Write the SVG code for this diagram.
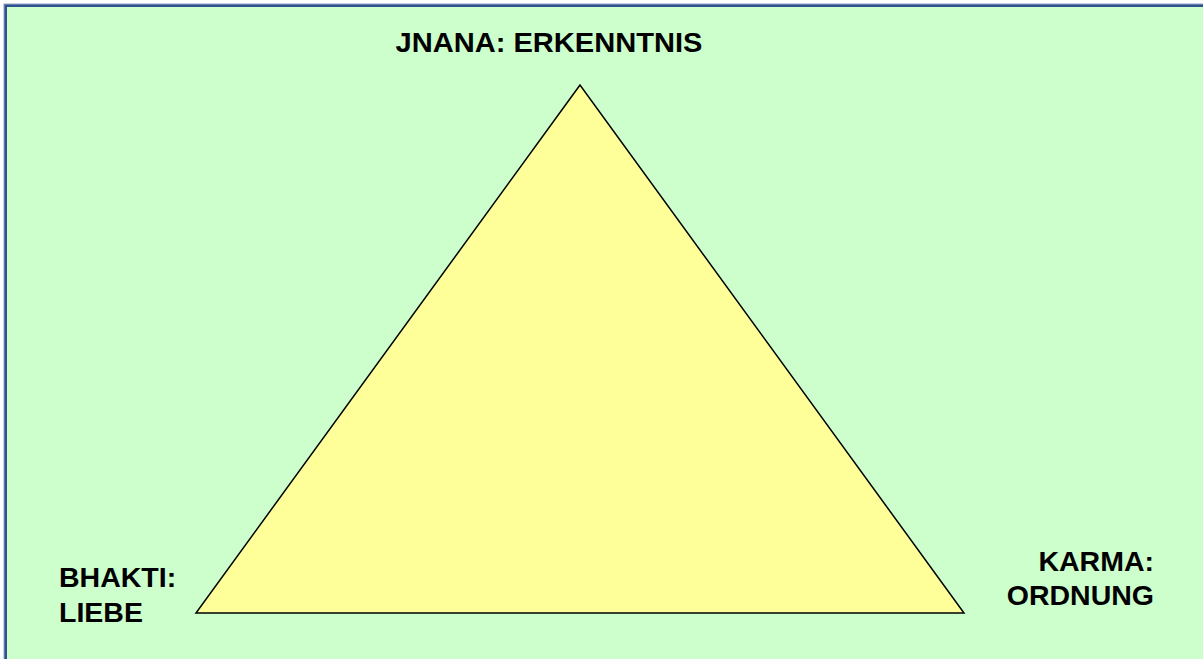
<svg xmlns="http://www.w3.org/2000/svg" width="1203" height="659" viewBox="0 0 1203 659">
<style>
.lbl{font-family:"Liberation Sans",Arial,sans-serif;font-weight:bold;font-size:28.5px;fill:#000}
</style>
<rect x="0" y="0" width="1203" height="659" fill="#FFFFFF"/>
<g id="frame">
<rect x="5.5" y="5.5" width="1210" height="670" fill="#CCFFCC" stroke="#2F528F" stroke-width="3"/>
<rect x="4" y="4" width="1213" height="673" fill="none" stroke="#8FA6CC" stroke-width="1"/>
</g>
<g id="triangle">
<polygon points="580,85 196,613 964,613" fill="#FFFF99" stroke="#000" stroke-width="1.5" stroke-linejoin="miter"/>
</g>
<g id="jnana"><text class="lbl" x="549" y="52" text-anchor="middle" textLength="307" lengthAdjust="spacingAndGlyphs">JNANA: ERKENNTNIS</text></g>
<g id="bhakti"><text class="lbl" x="59" y="587">BHAKTI:</text><text class="lbl" x="59" y="622">LIEBE</text></g>
<g id="karma"><text class="lbl" x="1154" y="571" text-anchor="end">KARMA:</text><text class="lbl" x="1154" y="605" text-anchor="end">ORDNUNG</text></g>
</svg>
